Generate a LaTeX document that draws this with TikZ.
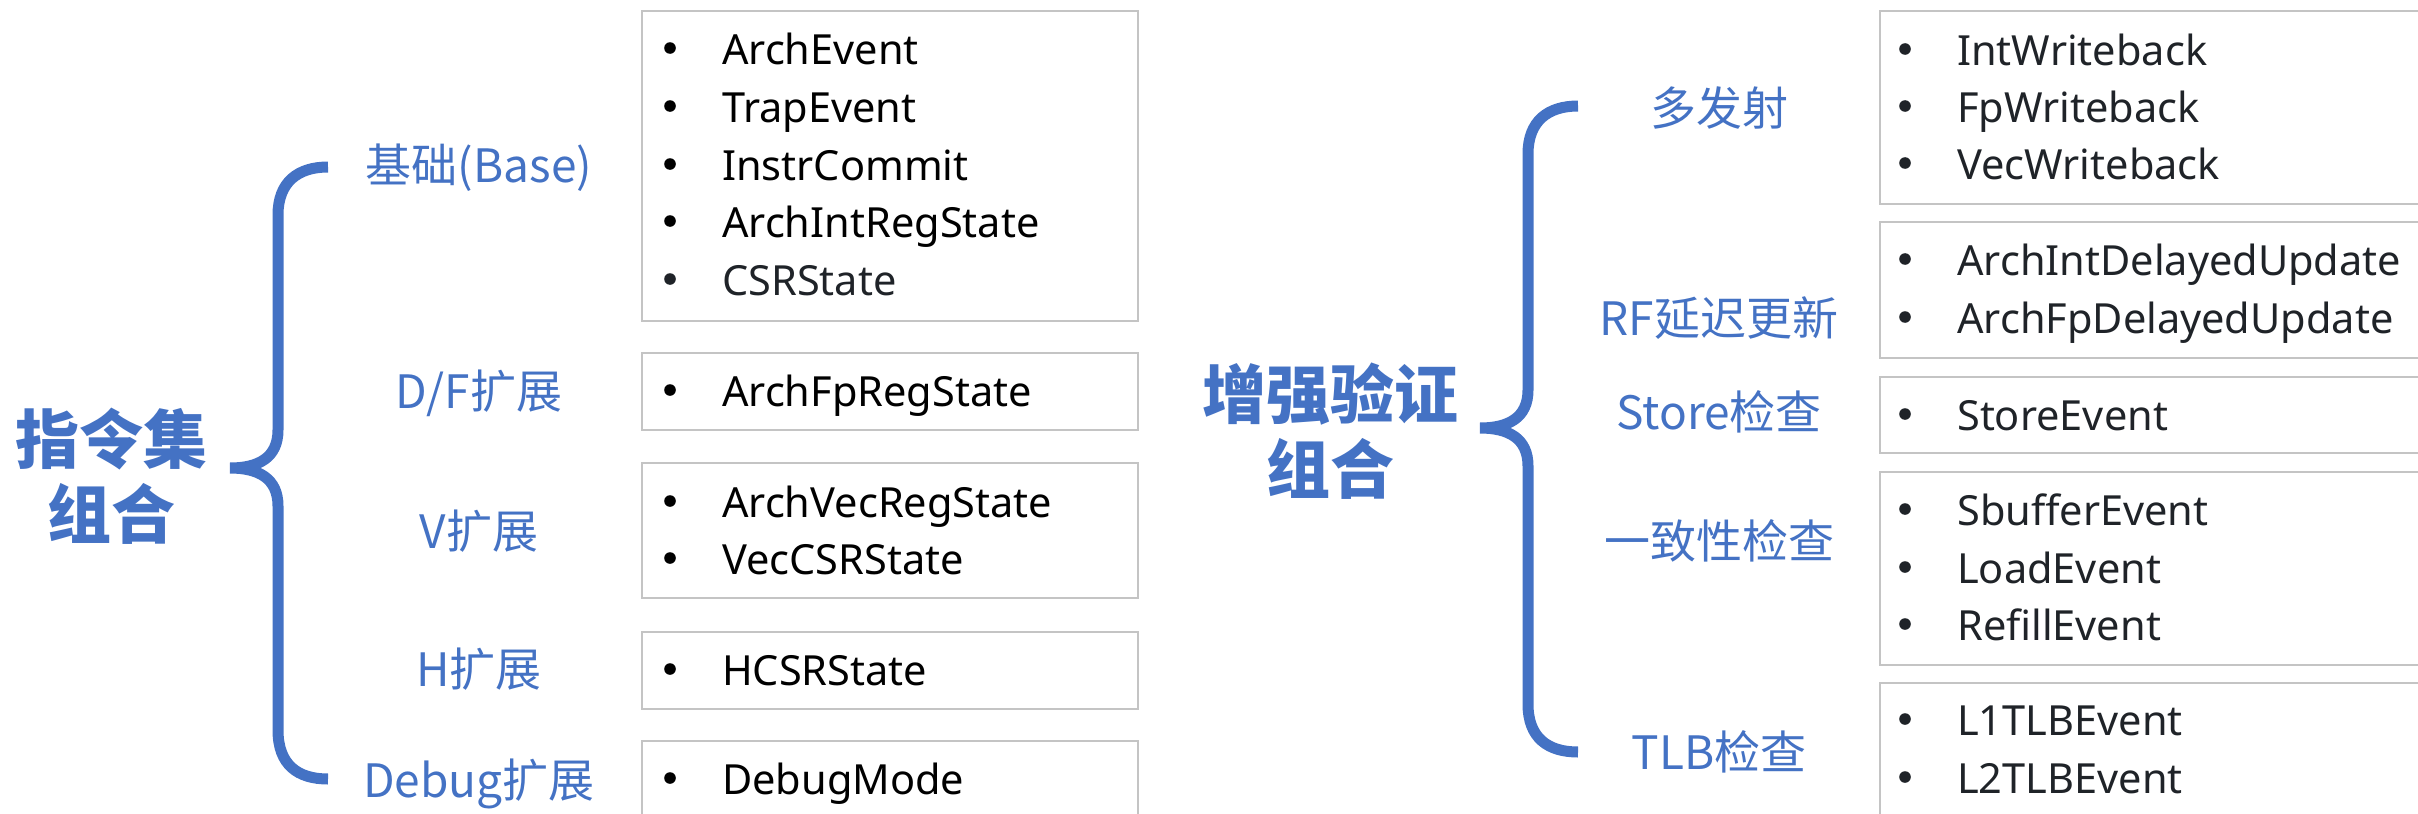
\documentclass[tikz,border=0pt]{standalone}
\usepackage{fontspec}
\setmainfont{Noto Sans}
\newfontfamily\cjk{Noto Sans CJK SC}
\definecolor{brblue}{HTML}{4472C4}
\definecolor{boxgray}{HTML}{C4C4C4}
\definecolor{txtdark}{HTML}{1F2328}
\newcommand\litem[5][black]{%
  \fill[#1] (#3-52,#4-16) circle (5.8pt);
  \node[itemtxt,text=#1] (#2) at (#3,#4) {#5};}
\begin{document}
\begin{tikzpicture}[x=1pt,y=-1pt,
  cat/.style={text=brblue, font=\cjk\fontsize{46}{55}\selectfont, inner sep=0pt, anchor=base},
  grouptitle/.style={text=brblue, font=\cjk\bfseries\fontsize{64}{75}\selectfont, align=center, inner sep=0pt},
  itemtxt/.style={font=\fontsize{41.5}{48}\selectfont, anchor=base west, inner sep=0pt},
  listbox/.style={draw=boxgray, line width=2.5pt, inner sep=0pt},
  brace/.style={draw=brblue, line width=11pt}
]
\useasboundingbox (0,0) rectangle (2418,814);
\clip (0,0) rectangle (2418,814);

% ---------- left group ----------
\node[grouptitle] (lt) at (112,476) {指令集\\组合};
\draw[brace] (328,167) .. controls (298,167) and (278,182) .. (278,215)
  -- (278,430) .. controls (278,458) and (258,468) .. (230,468)
  .. controls (258,468) and (278,478) .. (278,506)
  -- (278,730) .. controls (278,765) and (298,779) .. (328,779);

\node[cat] (c1) at (479,182) {基础(Base)};
\node[cat] (c2) at (479,408) {D/F扩展};
\node[cat] (c3) at (479,548) {V扩展};
\node[cat] (c4) at (479,686) {H扩展};
\node[cat] (c5) at (479,797) {Debug扩展};

\node[listbox, minimum width=496pt, minimum height=310pt] (b1) at (890,166) {};
\node[listbox, minimum width=496pt, minimum height=77pt] (b2) at (890,391.5) {};
\node[listbox, minimum width=496pt, minimum height=135pt] (b3) at (890,530.5) {};
\node[listbox, minimum width=496pt, minimum height=77pt] (b4) at (890,670.5) {};
\node[listbox, minimum width=496pt, minimum height=140pt] (b5) at (890,811) {};

\litem{i1}{722}{64}{ArchEvent}
\litem{i2}{722}{122}{TrapEvent}
\litem{i3}{722}{180}{InstrCommit}
\litem{i4}{722}{237}{ArchIntRegState}
\litem[txtdark]{i5}{722}{295}{CSRState}
\litem{i6}{722}{406}{ArchFpRegState}
\litem{i7}{722}{517}{ArchVecRegState}
\litem{i8}{722}{574}{VecCSRState}
\litem{i9}{722}{685}{HCSRState}
\litem{i10}{722}{794}{DebugMode}

% ---------- right group ----------
\node[grouptitle] (rt) at (1330,431) {增强验证\\组合};
\draw[brace] (1578,106) .. controls (1548,106) and (1528,121) .. (1528,154)
  -- (1528,390) .. controls (1528,418) and (1508,428) .. (1480,428)
  .. controls (1508,428) and (1528,438) .. (1528,466)
  -- (1528,704) .. controls (1528,738) and (1548,752) .. (1578,752);

\node[cat] (d1) at (1719,125) {多发射};
\node[cat] (d2) at (1719,335) {RF延迟更新};
\node[cat] (d3) at (1719,429) {Store检查};
\node[cat] (d4) at (1719,558) {一致性检查};
\node[cat] (d5) at (1719,769) {TLB检查};

\node[listbox, minimum width=620pt, minimum height=193pt] (r1) at (2190,107.5) {};
\node[listbox, minimum width=620pt, minimum height=136pt] (r2) at (2190,290) {};
\node[listbox, minimum width=620pt, minimum height=76pt] (r3) at (2190,415) {};
\node[listbox, minimum width=620pt, minimum height=193pt] (r4) at (2190,568.5) {};
\node[listbox, minimum width=620pt, minimum height=180pt] (r5) at (2190,773) {};

\litem[txtdark]{j1}{1957}{65}{IntWriteback}
\litem[txtdark]{j2}{1957}{122}{FpWriteback}
\litem[txtdark]{j3}{1957}{179}{VecWriteback}
\litem[txtdark]{j4}{1957}{275}{ArchIntDelayedUpdate}
\litem[txtdark]{j5}{1957}{333}{ArchFpDelayedUpdate}
\litem[txtdark]{j6}{1957}{430}{StoreEvent}
\litem[txtdark]{j7}{1957}{525}{SbufferEvent}
\litem[txtdark]{j8}{1957}{583}{LoadEvent}
\litem[txtdark]{j9}{1957}{640}{RefillEvent}
\litem[txtdark]{j10}{1957}{735}{L1TLBEvent}
\litem[txtdark]{j11}{1957}{793}{L2TLBEvent}
\end{tikzpicture}
\end{document}
